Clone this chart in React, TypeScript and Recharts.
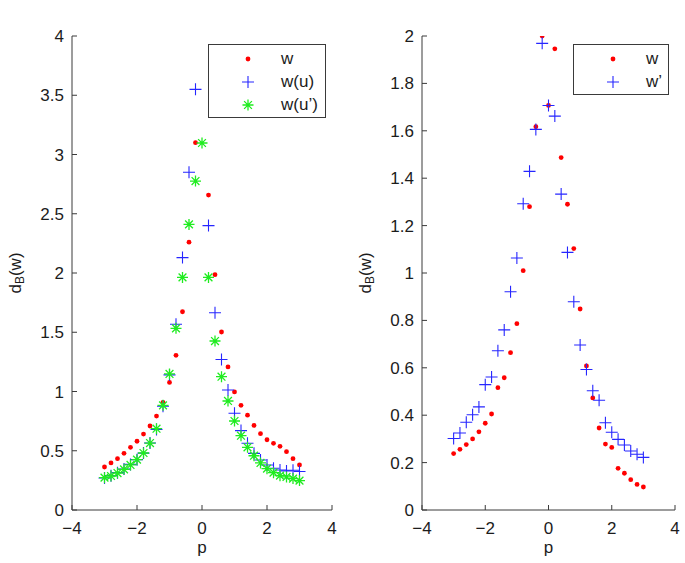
import React from "react"
import { Legend, Scatter, ScatterChart, XAxis, YAxis } from "recharts"

// p grid shared by every series
const P_VALUES = [-3, -2.8, -2.6, -2.4, -2.2, -2, -1.8, -1.6, -1.4, -1.2, -1, -0.8, -0.6, -0.4, -0.2, 0, 0.2, 0.4, 0.6, 0.8, 1, 1.2, 1.4, 1.6, 1.8, 2, 2.2, 2.4, 2.6, 2.8, 3]

// panel a) -- null means the point is above the axis range
const A_W = [0.363, 0.397, 0.433, 0.478, 0.529, 0.58, 0.641, 0.709, 0.793, 0.909, 1.077, 1.305, 1.673, 2.26, 3.1, null, 2.658, 1.986, 1.502, 1.207, 0.996, 0.883, 0.8, 0.714, 0.644, 0.593, 0.563, 0.537, 0.492, 0.433, 0.38]
const A_WU = [0.27, 0.29, 0.315, 0.345, 0.385, 0.425, 0.48, 0.565, 0.68, 0.875, 1.14, 1.567, 2.13, 2.85, 3.55, null, 2.4, 1.665, 1.27, 1.013, 0.816, 0.67, 0.563, 0.478, 0.422, 0.38, 0.352, 0.337, 0.33, 0.335, 0.325]
const A_WU2 = [0.273, 0.287, 0.312, 0.343, 0.38, 0.425, 0.481, 0.565, 0.686, 0.883, 1.148, 1.533, 1.963, 2.41, 2.776, 3.097, 1.963, 1.426, 1.125, 0.92, 0.751, 0.627, 0.529, 0.458, 0.397, 0.349, 0.315, 0.29, 0.279, 0.265, 0.248]

// panel b)
const B_W = [0.238, 0.256, 0.276, 0.3, 0.33, 0.366, 0.405, 0.516, 0.558, 0.664, 0.786, 1.01, 1.28, 1.617, 2.0, 1.707, 1.946, 1.487, 1.29, 1.103, 0.848, 0.608, 0.473, 0.346, 0.278, 0.264, 0.176, 0.155, 0.128, 0.108, 0.097]
const B_WP = [0.302, 0.325, 0.37, 0.402, 0.435, 0.529, 0.561, 0.672, 0.76, 0.921, 1.063, 1.292, 1.429, 1.606, 1.969, 1.707, 1.662, 1.333, 1.087, 0.879, 0.696, 0.593, 0.503, 0.463, 0.368, 0.328, 0.298, 0.274, 0.249, 0.235, 0.222]

const X_TICKS = [-4, -2, 0, 2, 4]
const A_Y_TICKS = [0, 0.5, 1, 1.5, 2, 2.5, 3, 3.5, 4]
const B_Y_TICKS = [0, 0.2, 0.4, 0.6, 0.8, 1, 1.2, 1.4, 1.6, 1.8, 2]

const RED = "#ff0000"
const BLUE = "#2626ff"
const GREEN = "#1fec1f"
const AXIS = "#3a3a3a"
const TEXT = "#1c1c1c"
const FONT = "'Liberation Sans', Arial, Helvetica, sans-serif"
const FONT_SIZE = 17

const CHART_HEIGHT = 563
const PLOT_TOP = 36
const PLOT_BOTTOM = 510

const toPoints = (values: (number | null)[]) =>
  P_VALUES.flatMap((p, index) => (values[index] == null ? [] : [{ p, v: values[index] as number }]))

const formatTick = (value: number) => (value < 0 ? `\u2212${Math.abs(value)}` : String(value))
const noLabel = () => ""

const DotMark = ({ cx, cy }: any) => <circle cx={cx} cy={cy} r={2.4} fill={RED} />

const PlusMark = ({ cx, cy }: any) => (
  <path
    d={`M${cx - 6},${cy}H${cx + 6}M${cx},${cy - 6}V${cy + 6}`}
    stroke={BLUE}
    strokeWidth={1.1}
    fill="none"
  />
)

const StarMark = ({ cx, cy }: any) => (
  <path
    d={`M${cx - 5.5},${cy}H${cx + 5.5}M${cx},${cy - 5.5}V${cy + 5.5}M${cx - 3.9},${cy - 3.9}L${cx + 3.9},${cy + 3.9}M${cx - 3.9},${cy + 3.9}L${cx + 3.9},${cy - 3.9}`}
    stroke={GREEN}
    strokeWidth={1.3}
    fill="none"
  />
)

const MARKERS: Record<string, (props: any) => React.ReactElement> = {
  w: DotMark,
  "w(u)": PlusMark,
  "w(u\u2019)": StarMark,
  "w\u2019": PlusMark,
}

type LegendBoxProps = { payload?: any[]; names: string[]; width: number; height: number }

function LegendBox({ payload, names, width, height }: LegendBoxProps) {
  const labels = payload && payload.length ? payload.map((entry) => String(entry.value)) : names
  return (
    <div
      style={{
        width,
        height,
        boxSizing: "border-box",
        border: `1px solid ${AXIS}`,
        background: "#fff",
        position: "relative",
        fontFamily: FONT,
        fontSize: FONT_SIZE,
        color: TEXT,
      }}
    >
      {labels.map((label, index) => {
        const Mark = MARKERS[label] ?? DotMark
        return (
          <div key={label} style={{ position: "absolute", left: 0, top: 2 + index * 23, height: 24, width: "100%" }}>
            <svg width={20} height={24} style={{ position: "absolute", left: 29 }}>
              <Mark cx={10} cy={12} />
            </svg>
            <span style={{ position: "absolute", left: 72, lineHeight: "24px", whiteSpace: "nowrap" }}>{label}</span>
          </div>
        )
      })}
    </div>
  )
}

type SeriesDef = { name: string; values: (number | null)[]; shape: (props: any) => React.ReactElement }

type PanelProps = {
  left: number
  width: number
  plotLeft: number
  plotRight: number
  yLabelX: number
  title: string
  yTicks: number[]
  yMax: number
  series: SeriesDef[]
  legendLeft: number
  legendWidth: number
  legendHeight: number
}

function Panel(props: PanelProps) {
  const { left, width, plotLeft, plotRight, yLabelX, title, yTicks, yMax, series, legendLeft, legendWidth, legendHeight } = props
  const centerX = (plotLeft + plotRight) / 2
  const centerY = (PLOT_TOP + PLOT_BOTTOM) / 2
  const axisProps = {
    stroke: AXIS,
    tick: { fill: TEXT, fontSize: FONT_SIZE, fontFamily: FONT },
    tickSize: -5,
    tickLine: { stroke: AXIS },
    allowDataOverflow: true,
  }

  return (
    <div style={{ position: "absolute", left, top: 0 }}>
      <ScatterChart
        width={width}
        height={CHART_HEIGHT}
        margin={{ top: PLOT_TOP, right: width - plotRight, bottom: CHART_HEIGHT - PLOT_BOTTOM - 30, left: plotLeft - 40 }}
      >
        <XAxis
          {...axisProps}
          type="number"
          dataKey="p"
          domain={[-4, 4]}
          ticks={X_TICKS}
          tickFormatter={formatTick}
          height={30}
          tickMargin={17}
          label={{
            content: () => (
              <text x={centerX} y={PLOT_BOTTOM + 43} textAnchor="middle" fontSize={FONT_SIZE} fontFamily={FONT} fill={TEXT}>
                p
              </text>
            ),
          }}
        />
        <XAxis
          {...axisProps}
          xAxisId="top"
          orientation="top"
          type="number"
          dataKey="p"
          domain={[-4, 4]}
          ticks={X_TICKS}
          tickFormatter={noLabel}
          height={0}
          label={{
            content: () => (
              <text x={centerX} y={PLOT_TOP - 13} textAnchor="middle" fontSize={FONT_SIZE} fontFamily={FONT} fill={TEXT}>
                {title}
              </text>
            ),
          }}
        />
        <YAxis
          {...axisProps}
          type="number"
          dataKey="v"
          domain={[0, yMax]}
          ticks={yTicks}
          width={40}
          tickMargin={13}
          label={{
            content: () => (
              <text
                transform={`translate(${yLabelX},${centerY}) rotate(-90)`}
                textAnchor="middle"
                dominantBaseline="central"
                fontSize={FONT_SIZE}
                fontFamily={FONT}
                fill={TEXT}
              >
                d
                <tspan dy={5} fontSize={12}>
                  B
                </tspan>
                <tspan dy={-5}>(w)</tspan>
              </text>
            ),
          }}
        />
        <YAxis
          {...axisProps}
          yAxisId="right"
          orientation="right"
          type="number"
          dataKey="v"
          domain={[0, yMax]}
          ticks={yTicks}
          tickFormatter={noLabel}
          width={0}
        />
        {series.map((s) => (
          <Scatter key={s.name} name={s.name} data={toPoints(s.values)} dataKey="v" shape={s.shape} isAnimationActive={false} />
        ))}
        <Legend
          layout="vertical"
          align="center"
          verticalAlign="middle"
          wrapperStyle={{ left: legendLeft, top: 44, width: legendWidth, height: legendHeight }}
          content={(legendProps: any) => (
            <LegendBox payload={legendProps.payload} names={series.map((s) => s.name)} width={legendWidth} height={legendHeight} />
          )}
        />
      </ScatterChart>
    </div>
  )
}

export default function App() {
  return (
    <div style={{ position: "absolute", left: 0, top: 0, width: 685, height: CHART_HEIGHT, background: "#fff" }}>
      <Panel
        left={0}
        width={342}
        plotLeft={72}
        plotRight={332}
        yLabelX={15}
        title="a)"
        yTicks={A_Y_TICKS}
        yMax={4}
        series={[
          { name: "w", values: A_W, shape: DotMark },
          { name: "w(u)", values: A_WU, shape: PlusMark },
          { name: "w(u\u2019)", values: A_WU2, shape: StarMark },
        ]}
        legendLeft={208}
        legendWidth={118}
        legendHeight={74}
      />
      <Panel
        left={342}
        width={343}
        plotLeft={80}
        plotRight={333}
        yLabelX={23}
        title="b)"
        yTicks={B_Y_TICKS}
        yMax={2}
        series={[
          { name: "w", values: B_W, shape: DotMark },
          { name: "w\u2019", values: B_WP, shape: PlusMark },
        ]}
        legendLeft={231}
        legendWidth={96}
        legendHeight={51}
      />
    </div>
  )
}
